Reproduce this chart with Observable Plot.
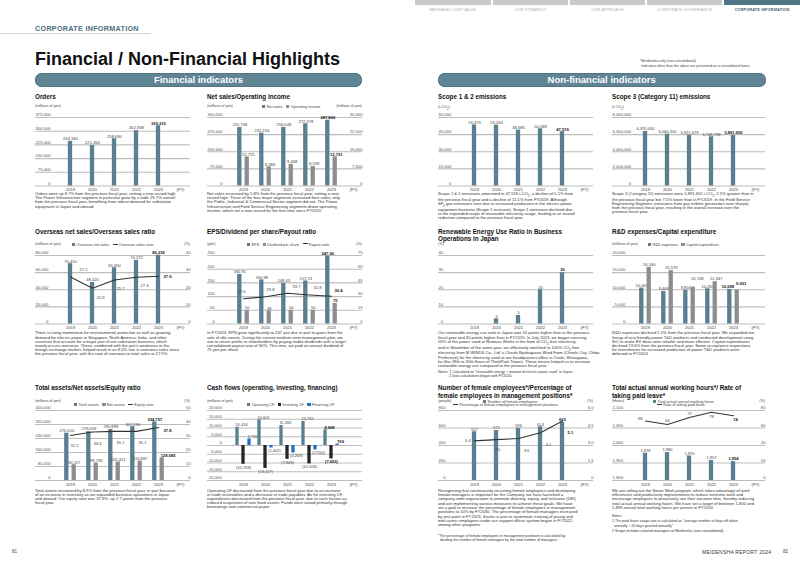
<!DOCTYPE html>
<html><head><meta charset="utf-8">
<script src="https://cdn.jsdelivr.net/npm/d3@7"></script>
<script src="https://cdn.jsdelivr.net/npm/@observablehq/plot@0.6"></script>
<style>
body{margin:0;background:#fff;}
#page{position:relative;width:800px;height:566px;overflow:hidden;background:#fff;font-family:"Liberation Sans",Arial,Helvetica,sans-serif;color:#222;}
.t{position:absolute;white-space:nowrap;}
.chart{position:absolute;}
.sq{display:inline-block;width:3.4px;height:3.4px;margin-right:1.2px;vertical-align:-0.3px;}
.ln{display:inline-block;width:5px;height:0;border-top:1px solid #333;margin-right:1.2px;vertical-align:1.3px;}
.gap{display:inline-block;width:3.5px;}
</style></head><body><div id="page"></div><script>
// ---------------- data ----------------
const years = ["2019", "2020", "2021", "2022", "2023"];
const orders = [244180, 221364, 258630, 302938, 329315];
const netSales = [255768, 231254, 256048, 272378, 287860];
const opIncome = [12725, 8384, 9468, 8539, 12721];
const scope12 = [53473, 53264, 48986, 50089, 47519];
const scope3 = [6370000, 6060300, 5922679, 5748738, 5891655];
const overseasSales = [70410, 48420, 65650, 74272, 80236];
const overseasRatio = [27.5, 20.9, 25.7, 27.3, 27.9];
const eps = [180.91, 160.98, 148.43, 157.13, 247.90];
const dividend = [50, 48, 50, 50, 75];
const payout = [27.6, 29.8, 33.7, 31.8, 30.4];
const renewable = [null, 3, 5, 20, 30];
const rnd = [10467, 9468, 9850, 10267, 10098];
const capex = [16540, 15579, 10748, 12347, 9931];
const totalAssets = [270410, 279059, 290899, 307290, 334757];
const netAssets = [90117, 99736, 105421, 110887, 129685];
const equityRatio = [32.2, 34.6, 35.1, 35.1, 37.8];
const opCF = [10416, 14601, 11382, 13742, 8968];
const invCF = [-10709, -13117, -7909, -10506, -7653];
const finCF = [3735, -1402, -4269, -2550, 769];
const femaleEmp = [557, 571, 596, 614, 665];
const femaleMgrPct = [3.4, 3.5, 3.6, 4.1, 5.1];
const workHours = [1978, 1980, 1970, 1957, 1954];
const paidLeave = [68, 64, 72, 78, 74];
const fyLabel = "(FY)";

// ---------------- style ----------------
const FONT = '"Liberation Sans", Arial, Helvetica, sans-serif';
const TEAL = "#5a7f90", GRAY = "#8e8e8e", BLACK = "#262626", BLUE = "#1f6fc2", LINE = "#333", GRID = "#bdbdbd";
const TFS = 4.2, LFS = 4.1, XFS = 4.1, DFS = 4.15, DLH = 4.1;
const page = document.getElementById("page");
const fmt = d => d.toLocaleString("en-US");
const paren = d => d < 0 ? "(" + (-d).toLocaleString("en-US") + ")" : d.toLocaleString("en-US");
const f1 = d => d.toFixed(1);
const rows = {1: {gt: 116.5, gb: 185}, 2: {gt: 254.5, gb: 323}, 3: {gt: 409.5, gb: 479.5}};
const cols = {A: {x0: 35, x1: 190, first: 33}, B: {x0: 207, x1: 362, first: 34}, C: {x0: 438, x1: 593, first: 34.5}, D: {x0: 612, x1: 765, first: 31.5}};

function put(x, y, html, st = {}) {
  const d = document.createElement("div");
  d.className = "t";
  d.innerHTML = html;
  const fs = st.fs || DFS, lh = st.lh || fs;
  Object.assign(d.style, {top: (y - lh / 2) + "px", fontSize: fs + "px", lineHeight: lh + "px",
    color: st.color || "#333", fontWeight: st.bold ? "bold" : "normal"});
  if (st.align === "right") d.style.right = (800 - x) + "px"; else d.style.left = x + "px";
  if (st.align === "center") d.style.transform = "translateX(-50%)";
  if (st.ls) d.style.letterSpacing = st.ls + "px";
  page.appendChild(d);
  return d;
}
function est(s, fs) {
  let w = 0;
  for (const ch of s) w += /[0-9]/.test(ch) ? 0.556 : (ch === "," || ch === ".") ? 0.278 : ch === "-" ? 0.333 : 0.5;
  return w * fs;
}
function legend(x, y, items) {
  const html = items.map(it => (it.type === "line" ? '<span class="ln"></span>' :
    `<span class="sq" style="background:${it.color}"></span>`) + it.label).join('<span class="gap"></span>');
  put(x, y, html, {fs: 3.8, color: "#444"});
}

function chart(c) {
  const R = rows[c.row], C = cols[c.col];
  const W = C.x1 - C.x0, mt = 8, mb = 9;
  const H = R.gb - R.gt + mt + mb;
  const step = 22.7, first = C.first;
  const cats = [...years, fyLabel];
  const xr = [first - step / 2, first - step / 2 + step * cats.length];
  const [y0, y1] = c.y.domain;
  const toY = c.y2 ? v => y0 + (v - c.y2.domain[0]) * (y1 - y0) / (c.y2.domain[1] - c.y2.domain[0]) : v => v;
  const yt = d3.range(y0, y1 + c.y.step / 2, c.y.step);
  const lf = c.y.fmt || fmt;
  const lw = d3.max(yt, d => est(lf(d), TFS));
  const marks = [
    Plot.ruleY(yt, {stroke: GRID, strokeWidth: 1.1}),
    Plot.text(yt, {y: d => d, text: lf, frameAnchor: "left", textAnchor: "end", dx: lw, dy: -2.6, fontSize: TFS, fill: "#555"})
  ];
  if (c.y2) {
    const t2 = d3.range(c.y2.domain[0], c.y2.domain[1] + c.y2.step / 2, c.y2.step);
    marks.push(Plot.text(t2, {y: d => toY(d), text: c.y2.fmt || fmt, frameAnchor: "right", textAnchor: "end", dy: -2.6, fontSize: TFS, fill: "#555"}));
  }
  const base = c.base ?? 0;
  for (const s of c.bars) {
    const map = s.right ? toY : v => v;
    const data = years.map((year, i) => ({year, v: s.values[i], i})).filter(d => d.v != null);
    const w = s.w ?? 5, off = s.c ?? 0;
    marks.push(Plot.barY(data, {x: "year", y1: base, y2: d => map(d.v), fill: s.color || TEAL,
      insetLeft: step / 2 + off - w / 2, insetRight: step / 2 - off - w / 2}));
    data.forEach(d => {
      const last = d.i === years.length - 1;
      const o = (s.lo && s.lo[d.i]) || [0, 0];
      const neg = d.v < 0;
      marks.push(Plot.text([d], {x: "year", y: q => map(q.v), text: q => (s.fmt || fmt)(q.v),
        dx: off + (s.ldx || 0) + o[0], dy: (neg ? 1.4 : -1.2) + o[1], lineAnchor: neg ? "top" : "bottom",
        fontSize: LFS, fontWeight: last ? "bold" : "normal", fill: last ? "#111" : "#444"}));
    });
  }
  for (const L of (c.lines || [])) {
    const data = years.map((year, i) => ({year, v: L.values[i], i}));
    marks.push(Plot.line(data, {x: "year", y: d => toY(d.v), stroke: LINE, strokeWidth: 1.1}));
    data.forEach(d => {
      const last = d.i === years.length - 1;
      const o = L.lo[d.i];
      marks.push(Plot.text([d], {x: "year", y: q => toY(q.v), text: q => L.fmt(q.v), dx: o[0], dy: o[1],
        textAnchor: o[2] || "middle", lineAnchor: "middle", fontSize: LFS,
        fontWeight: last ? "bold" : "normal", fill: last ? "#111" : "#444"}));
    });
  }
  const svg = Plot.plot({
    width: W, height: H, marginTop: mt, marginBottom: mb, marginLeft: 0, marginRight: 0,
    x: {type: "band", domain: cats, range: xr, padding: 0, tickSize: 0, tickPadding: 2.3, label: null},
    y: {domain: c.y.domain, axis: null},
    style: {fontSize: XFS + "px", fontFamily: FONT, color: "#444", background: "transparent", overflow: "visible"},
    marks
  });
  const wrap = document.createElement("div");
  wrap.className = "chart";
  Object.assign(wrap.style, {left: C.x0 + "px", top: (R.gt - mt) + "px", width: W + "px", height: H + "px"});
  wrap.appendChild(svg);
  page.appendChild(wrap);
}

// ---------------- page header ----------------
put(35, 28.3, "CORPORATE INFORMATION", {fs: 7.2, bold: true, color: "#4d6f7e", ls: 0.3});
(() => { const l = document.createElement("div"); Object.assign(l.style, {position: "absolute", left: "0px", top: "33px", width: "151px", height: "1px", background: "#c8d7df"}); page.appendChild(l); })();
put(35, 58.5, "Financial / Non-Financial Highlights", {fs: 18, lh: 20, bold: true, color: "#111"});
function pill(x, w, label) {
  const d = document.createElement("div");
  d.textContent = label;
  Object.assign(d.style, {position: "absolute", left: x + "px", top: "72.7px", width: w + "px", height: "14.6px",
    borderRadius: "7.3px", background: "#5f8494", boxShadow: "inset 0 0 0 0.8px #4d6f7e", color: "#fff", fontWeight: "bold",
    fontSize: "9.5px", lineHeight: "14.6px", textAlign: "center"});
  page.appendChild(d);
}
pill(35, 327, "Financial indicators");
pill(437.7, 328, "Non-financial indicators");
const tabs = [["MESSAGE / OUR VALUE", 415, 491], ["OUR STRATEGY", 493, 568], ["OUR APPROACH", 570, 645], ["CORPORATE GOVERNANCE", 647, 722], ["CORPORATE INFORMATION", 724, 800]];
tabs.forEach(([label, a, b], i) => {
  const active = i === tabs.length - 1;
  const d = document.createElement("div");
  Object.assign(d.style, {position: "absolute", left: a + "px", top: "0px", width: (b - a) + "px", height: "5px", background: active ? "#4f7585" : "#c9c9c9"});
  page.appendChild(d);
  put((a + b) / 2, 11, label, {fs: 3.8, align: "center", color: active ? "#3e6070" : "#aaa", bold: active, ls: 0.15});
});
put(640, 61.3, "*Meidensha only (non-consolidated)", {fs: 3.5, color: "#444"});
put(641, 66.5, "Indicators other than the above are presented on a consolidated basis.", {fs: 3.5, color: "#444"});
put(12, 552, "81", {fs: 4.6, color: "#444"});
put(702, 552, "MEIDENSHA REPORT 2024", {fs: 5, color: "#333", ls: 0.25});
put(783, 552, "82", {fs: 4.6, color: "#444"});

// ---------------- titles, units, legends ----------------
const TT = {fs: 6.3, bold: true, color: "#111"};
const UT = {fs: 3.7, color: "#444"};
put(35, 97, "Orders", TT);
put(207, 97, "Net sales/Operating income", TT);
put(438, 97, "Scope 1 &amp; 2 emissions", TT);
put(612, 97, "Scope 3 (Category 11) emissions", TT);
put(35, 231.7, "Overseas net sales/Overseas sales ratio", TT);
put(207, 231.7, "EPS/Dividend per share/Payout ratio", TT);
put(438, 231.7, "Renewable Energy Use Ratio in Business<br>Operations in Japan", {...TT, lh: 7.4});
put(612, 231.7, "R&amp;D expenses/Capital expenditure", TT);
put(35, 388.3, "Total assets/Net assets/Equity ratio", TT);
put(207, 388.3, "Cash flows (operating, investing, financing)", TT);
put(438, 388.3, "Number of female employees*/Percentage of<br>female employees in management positions*", {...TT, lh: 7.8});
put(612, 388.3, "Total actual annual working hours*/ Rate of<br>taking paid leave*", {...TT, lh: 7.8});

put(35, 107, "(millions of yen)", UT);
put(207, 107, "(millions of yen)", UT);
put(362, 107, "(millions of yen)", {...UT, align: "right"});
put(438, 107.5, "(t-CO<sub style='font-size:2.6px'>2</sub>)", UT);
put(612, 107.5, "(t-CO<sub style='font-size:2.6px'>2</sub>)", UT);
put(35, 244.8, "(millions of yen)", UT);
put(190, 244.8, "(%)", {...UT, align: "right"});
put(207, 244.8, "(yen)", UT);
put(362, 244.8, "(%)", {...UT, align: "right"});
put(438, 244.8, "(%)", UT);
put(612, 244.8, "(millions of yen)", UT);
put(35, 401.7, "(millions of yen)", UT);
put(190, 401.7, "(%)", {...UT, align: "right"});
put(207, 401.7, "(millions of yen)", UT);
put(438, 401.7, "(people)", UT);
put(593, 401.7, "(%)", {...UT, align: "right"});
put(612, 401.7, "(Hours)", UT);
put(765, 401.7, "(%)", {...UT, align: "right"});

legend(262, 107, [{color: TEAL, label: "Net sales"}, {color: GRAY, label: "Operating income"}]);
legend(72, 244.8, [{color: TEAL, label: "Overseas net sales"}, {type: "line", label: "Overseas sales ratio"}]);
legend(247, 244.5, [{color: TEAL, label: "EPS"}, {color: GRAY, label: "Dividend per share"}, {type: "line", label: "Payout ratio"}]);
legend(648, 244.8, [{color: TEAL, label: "R&amp;D expenses"}, {color: GRAY, label: "Capital expenditure"}]);
legend(74, 405, [{color: TEAL, label: "Total assets"}, {color: GRAY, label: "Net assets"}, {type: "line", label: "Equity ratio"}]);
legend(247, 405, [{color: TEAL, label: "Operating CF"}, {color: BLACK, label: "Investing CF"}, {color: BLUE, label: "Financing CF"}]);
legend(483, 401.7, [{color: TEAL, label: "Number of female employees"}]);
legend(453, 406, [{type: "line", label: "Percentage of female employees in management positions"}]);
legend(653, 401.7, [{color: TEAL, label: "Total actual annual working hours"}]);
legend(657, 406, [{type: "line", label: "Rate of taking paid leave"}]);

// ---------------- charts ----------------
chart({row: 1, col: "A", y: {domain: [0, 375000], step: 75000}, bars: [{values: orders}]});
chart({row: 1, col: "B", y: {domain: [0, 300000], step: 75000}, y2: {domain: [0, 30000], step: 7500},
  bars: [{values: netSales, c: -3.7}, {values: opIncome, c: 3.7, color: GRAY, right: true, ldx: 1}]});
chart({row: 1, col: "C", y: {domain: [0, 60000], step: 15000}, bars: [{values: scope12}]});
chart({row: 1, col: "D", y: {domain: [0, 8000000], step: 2000000}, bars: [{values: scope3}]});
chart({row: 2, col: "A", y: {domain: [0, 80000], step: 20000}, y2: {domain: [0, 40], step: 10},
  bars: [{values: overseasSales}],
  lines: [{values: overseasRatio, fmt: f1, lo: [[13, -7], [8, 9], [6, 9], [8, 8.5], [5, 0.5, "start"]]}]});
chart({row: 2, col: "B", y: {domain: [0, 250], step: 50}, y2: {domain: [0, 75], step: 15},
  bars: [{values: eps, c: -3.7, fmt: d => d.toFixed(2)}, {values: dividend, c: 3.7, color: GRAY}],
  lines: [{values: payout, fmt: f1, lo: [[-2, -7.6], [5, -7.3], [9, -7], [8, -7], [3, -6, "start"]]}]});
chart({row: 2, col: "C", y: {domain: [0, 40], step: 10}, bars: [{values: renewable}]});
chart({row: 2, col: "D", y: {domain: [0, 20000], step: 5000},
  bars: [{values: rnd, c: -3.7, lo: {4: [-2, 0]}}, {values: capex, c: 3.7, color: GRAY, lo: {2: [4, -6], 3: [1, -1], 4: [4, -4]}}]});
chart({row: 3, col: "A", y: {domain: [0, 400000], step: 80000}, y2: {domain: [0, 50], step: 10},
  bars: [{values: totalAssets, c: -3.7}, {values: netAssets, c: 3.7, color: GRAY, lo: {4: [6, 0]}}],
  lines: [{values: equityRatio, fmt: f1, lo: [[4, 10.6], [5, 11.6], [6, 11], [6, 11], [5, 2.7, "start"]]}]});
chart({row: 3, col: "B", y: {domain: [-20000, 20000], step: 5000},
  bars: [{values: opCF, c: -6, w: 4, fmt: paren, ldx: 4},
         {values: invCF, c: 0, w: 4, color: BLACK, fmt: paren},
         {values: finCF, c: 6, w: 4, color: BLUE, fmt: paren, ldx: 3}]});
chart({row: 3, col: "C", y: {domain: [0, 800], step: 200}, y2: {domain: [0, 6], step: 1.5, fmt: d => d === 0 ? "0" : d.toFixed(1)},
  bars: [{values: femaleEmp}],
  lines: [{values: femaleMgrPct, fmt: f1, lo: [[-4, 0, "end"], [1, 10.5], [8, 12], [8, 12.5], [5, 12, "start"]]}]});
chart({row: 3, col: "D", y: {domain: [1900, 2100], step: 50}, y2: {domain: [0, 80], step: 20}, base: 1900,
  bars: [{values: workHours}],
  lines: [{values: paidLeave, fmt: d => String(d), lo: [[-3, -2, "end"], [0, -3.5], [0, -3.5], [0, 4], [2, 3.5]]}]});

// ---------------- descriptions ----------------
function para(x, y, lines, st = {}) { put(x, y, lines.join("<br>"), {fs: st.fs || DFS, lh: st.lh || DLH, color: "#333"}); }
para(35, 194.3, [
  "Orders were up 8.7% from the previous fiscal year, setting a new record high.",
  "The Power Infrastructure segment in particular grew by a wide 29.7% overall",
  "from the previous fiscal year, benefiting from robust demand for substation",
  "equipment in Japan and abroad."]);
para(207, 194.3, [
  "Net sales increased by 5.8% from the previous fiscal year, setting a new",
  "record high. Three of the four major segments increased their sales; only",
  "the Public, Industrial &amp; Commercial Sector segment did not. The Power",
  "Infrastructure and Field Service Engineering segments drove operating",
  "income, which set a new record for the first time since FY2019."]);
para(438, 194.3, [
  "Scope 1 &amp; 2 emissions amounted to 47,519 t-CO<sub style='font-size:2.8px'>2</sub>, a decline of 5.1% from",
  "the previous fiscal year and a decline of 11.1% from FY2019. Although",
  "SF<sub style='font-size:2.8px'>6</sub> gas emissions rose due to increased production in the electric power",
  "equipment business (Scope 1 increase), Scope 2 emissions declined due",
  "to the expanded scope of renewable electricity usage, leading to an overall",
  "reduction compared to the previous fiscal year."]);
para(612, 194.3, [
  "Scope 3 (Category 11) emissions were 5,891,655 t-CO<sub style='font-size:2.8px'>2</sub>, 2.5% greater than in",
  "the previous fiscal year but 7.5% lower than in FY2019. In the Field Service",
  "Engineering Segment, emissions from gas turbine generators rose sharply",
  "from the previous fiscal year, resulting in the overall increase over the",
  "previous fiscal year."]);
para(35, 333.5, [
  "There is rising momentum for environmental protection as well as growing",
  "demand for electric power in Singapore, North America, India, and other",
  "countries that account for a major part of our substation business, which",
  "mainly occurs overseas. These, combined with the yen's weakness in the",
  "foreign exchange market, helped result in an 8.0% rise in overseas sales since",
  "the previous fiscal year, with the ratio of overseas to total sales at 27.9%."]);
para(207, 333.5, [
  "In FY2023, EPS grew significantly to 247 yen due in part to gains from the",
  "sale of idle assets. During the current medium-term management plan, we",
  "aim to return profits to shareholders by paying stable dividends with a target",
  "consolidated payout ratio of 30%. This time, we paid an annual dividend of",
  "75 yen per share."]);
para(438, 333.5, [
  "Our renewable energy use ratio in Japan was 10 points higher than in the previous",
  "fiscal year and 30 points higher than in FY2019. In July 2023, we began sourcing",
  "20% of the power used at Numazu Works in the form of CO<sub style='font-size:2.8px'>2</sub>-free electricity,",
  "and in November of the same year, we effectively switched to 100% CO<sub style='font-size:2.8px'>2</sub>-free",
  "electricity from M WINDS Co., Ltd.'s Choshi Byobugaura Wind Farm (Choshi City, Chiba",
  "Prefecture) for the electricity used at our headquarters office in Osaki, Shinagawa-",
  "ku (the 28th to 30th floors of ThinkPark Tower). These moves helped us to increase",
  "renewable energy use compared to the previous fiscal year."]);
para(438, 372.3, [
  "Notes: 1 Calculated as \u201crenewable energy \u00f7 amount of electric power used\u201d in Japan.",
  "<span style='display:inline-block;width:11px'></span>2 Data calculations began with FY2020."], {fs: 3.6, lh: 4.3});
para(612, 333.5, [
  "R&amp;D expenses declined 1.5% from the previous fiscal year. We expanded our",
  "lineup of eco-friendly power T&amp;D products and conducted development using",
  "SiC to make EV drive units smaller and more efficient. Capital expenditures",
  "declined 19.6% from the previous fiscal year. Some acceptance inspections",
  "for investments for increased production of power T&amp;D products were",
  "deferred to FY2024."]);
para(35, 490.7, [
  "Total assets increased by 8.9% from the previous fiscal year, in part because",
  "of an increase in inventory as we expanded business operations in Japan",
  "and abroad. Our equity ratio was 37.8%, up 2.7 points from the previous",
  "fiscal year."]);
para(207, 490.7, [
  "Operating CF decreased from the previous fiscal year due to an increase",
  "in trade receivables and a decrease in trade payables. As for investing CF,",
  "expenditures decreased from the previous fiscal year, due to such factors as",
  "reduced acquisition of new fixed assets. Funds were raised primarily through",
  "borrowings and commercial paper."]);
para(438, 490.7, [
  "Recognizing that continuously recruiting female employees and developing",
  "female managers is important for the Company, we have launched a",
  "company-wide organization to promote diversity, equity, and inclusion (DEI)",
  "and are implementing various measures to achieve these goals. We have",
  "set a goal to increase the percentage of female employees in management",
  "positions to 10% by FY2030. The percentage of female managers increased",
  "by one point in FY2023, thanks in part to systematic training of young and",
  "mid-career employees under our support officer system begun in FY2022,",
  "among other programs."], {lh: 4.35});
para(438, 536, [
  "*The percentage of female employees in management positions is calculated by",
  "&nbsp;&nbsp;dividing the number of female managers by the total number of managers."], {fs: 3.6, lh: 4.6});
para(612, 490.7, [
  "We are rolling out the Smart Work program, which takes advantage of work",
  "efficiencies and productivity improvements to reduce overtime work and",
  "encourage employees to proactively use their vacation time, thereby reducing",
  "total actual annual working hours. We have set a target of between 1,800 and",
  "1,899 annual total working hours per person in FY2024."], {lh: 4.35});
para(612, 516.7, [
  "Notes:",
  "1 The paid leave usage rate is calculated as \u201caverage number of days off taken",
  "&nbsp;&nbsp;annually \u00f7 20 days granted annually.\u201d",
  "2 Scope includes salaried managers at Meidensha (non-consolidated)."], {fs: 3.6, lh: 4.8});
</script></body></html>
